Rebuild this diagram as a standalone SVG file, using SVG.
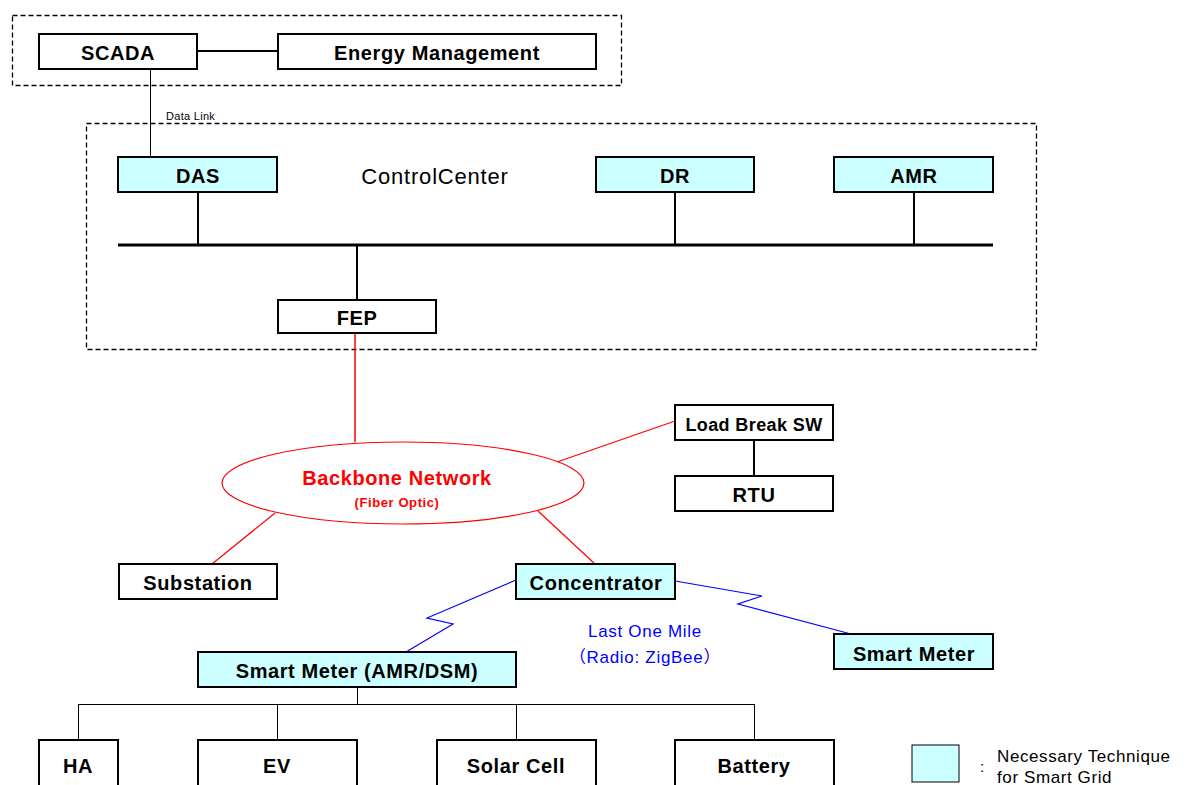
<svg xmlns="http://www.w3.org/2000/svg" width="1192" height="785" viewBox="0 0 1192 785">
<style>
.box{fill:#fff;stroke:#000;stroke-width:2}
.cy{fill:#ccffff;stroke:#000;stroke-width:2}
.dash{fill:none;stroke:#000;stroke-width:1.3;stroke-dasharray:5,3}
.t{font-family:"Liberation Sans",Arial,sans-serif;font-weight:bold;font-size:20px;letter-spacing:0.6px;fill:#000;text-anchor:middle}
.bl{stroke:#000;stroke-width:2;fill:none}
.thin{stroke:#000;stroke-width:1;fill:none}
.red{stroke:#ff0000;stroke-width:1.2;fill:none}
.blue{stroke:#0000ff;stroke-width:1.2;fill:none}
.n{font-family:"Liberation Sans",Arial,sans-serif}
</style>
<rect width="1192" height="785" fill="#fff"/>
<rect class="dash" x="12.5" y="15.5" width="609" height="70"/>
<rect class="dash" x="86.5" y="123.5" width="950" height="226"/>
<g id="connectors">
<line class="bl" x1="197" y1="51" x2="278" y2="51"/>
<line class="thin" x1="150.5" y1="69" x2="150.5" y2="157"/>
<line stroke="#000" stroke-width="3" x1="118" y1="245" x2="993" y2="245"/>
<line class="bl" x1="198" y1="192" x2="198" y2="245"/>
<line class="bl" x1="675" y1="192" x2="675" y2="245"/>
<line class="bl" x1="914" y1="192" x2="914" y2="245"/>
<line class="bl" x1="357" y1="245" x2="357" y2="300"/>
<line stroke="#ff0000" stroke-width="1.5" x1="355" y1="333" x2="355" y2="442"/>
<line class="red" x1="557" y1="462" x2="675" y2="421"/>
<line class="red" x1="275" y1="513" x2="212" y2="564"/>
<line class="red" x1="538" y1="511" x2="595" y2="564"/>
<line class="bl" x1="754" y1="440" x2="754" y2="476"/>
<polyline class="blue" points="516,580 427,618 453,624 406,652"/>
<polyline class="blue" points="675,581 762,596 738,604 851,634"/>
<line class="thin" x1="357.5" y1="687" x2="357.5" y2="704"/>
<line class="thin" x1="78" y1="704.5" x2="754" y2="704.5"/>
<line class="thin" x1="78.5" y1="704" x2="78.5" y2="740"/>
<line class="thin" x1="277.5" y1="704" x2="277.5" y2="740"/>
<line class="thin" x1="516.5" y1="704" x2="516.5" y2="740"/>
<line class="thin" x1="754.5" y1="704" x2="754.5" y2="740"/>
</g>
<text class="n" x="166" y="120" font-size="11" letter-spacing="0.3">Data Link</text>
<text class="n" x="435" y="184" font-size="22" letter-spacing="0.8" text-anchor="middle">ControlCenter</text>
<g id="scada"><rect class="box" x="39" y="34" width="158" height="35"/><text class="t" x="118" y="60">SCADA</text></g>
<g id="em"><rect class="box" x="278" y="34" width="318" height="35"/><text class="t" x="437" y="60">Energy Management</text></g>
<g id="das"><rect class="cy" x="118" y="157" width="159" height="35"/><text class="t" x="198" y="183">DAS</text></g>
<g id="dr"><rect class="cy" x="596" y="157" width="158" height="35"/><text class="t" x="675" y="183">DR</text></g>
<g id="amr"><rect class="cy" x="834" y="157" width="159" height="35"/><text class="t" x="914" y="183">AMR</text></g>
<g id="fep"><rect class="box" x="278" y="300" width="158" height="33"/><text class="t" x="357" y="325">FEP</text></g>
<g id="backbone"><ellipse cx="403" cy="483" rx="181" ry="41" fill="#fff" stroke="#ff0000" stroke-width="1.2"/>
<text class="t" x="397" y="485" style="fill:#ff0000;font-size:20px">Backbone Network</text>
<text class="t" x="397" y="507" style="fill:#ff0000;font-size:13px">(Fiber Optic)</text></g>
<g id="lbsw"><rect class="box" x="675" y="405" width="158" height="35"/><text class="t" x="754" y="431" style="font-size:18px;letter-spacing:0.4px">Load Break SW</text></g>
<g id="rtu"><rect class="box" x="675" y="476" width="158" height="35"/><text class="t" x="754" y="502">RTU</text></g>
<g id="substation"><rect class="box" x="119" y="564" width="158" height="35"/><text class="t" x="198" y="590">Substation</text></g>
<g id="concentrator"><rect class="cy" x="516" y="564" width="159" height="35"/><text class="t" x="596" y="590">Concentrator</text></g>
<g id="smartmeter"><rect class="cy" x="834" y="634" width="159" height="35"/><text class="t" x="914" y="661">Smart Meter</text></g>
<g id="smartmeteramr"><rect class="cy" x="198" y="652" width="318" height="35"/><text class="t" x="357" y="678">Smart Meter (AMR/DSM)</text></g>
<g id="lastmile" font-family="Liberation Sans,Arial,'Noto Sans CJK JP',sans-serif" font-size="17" letter-spacing="0.7" fill="#0000ff" text-anchor="middle">
<text x="645" y="637">Last One Mile</text>
<text x="645" y="663">（Radio: ZigBee）</text></g>
<g id="ha"><rect class="box" x="39" y="740" width="79" height="60"/><text class="t" x="78" y="773">HA</text></g>
<g id="ev"><rect class="box" x="198" y="740" width="159" height="60"/><text class="t" x="277" y="773">EV</text></g>
<g id="solar"><rect class="box" x="437" y="740" width="159" height="60"/><text class="t" x="516" y="773">Solar Cell</text></g>
<g id="battery"><rect class="box" x="675" y="740" width="159" height="60"/><text class="t" x="754" y="773">Battery</text></g>
<g id="legend"><rect x="912" y="745" width="47" height="37" fill="#ccffff" stroke="#000" stroke-width="1"/>
<text class="n" x="980" y="772" font-size="15">:</text>
<text class="n" x="997" y="762" font-size="17" letter-spacing="0.6">Necessary Technique</text>
<text class="n" x="997" y="783" font-size="17" letter-spacing="0.6">for Smart Grid</text></g>
</svg>
